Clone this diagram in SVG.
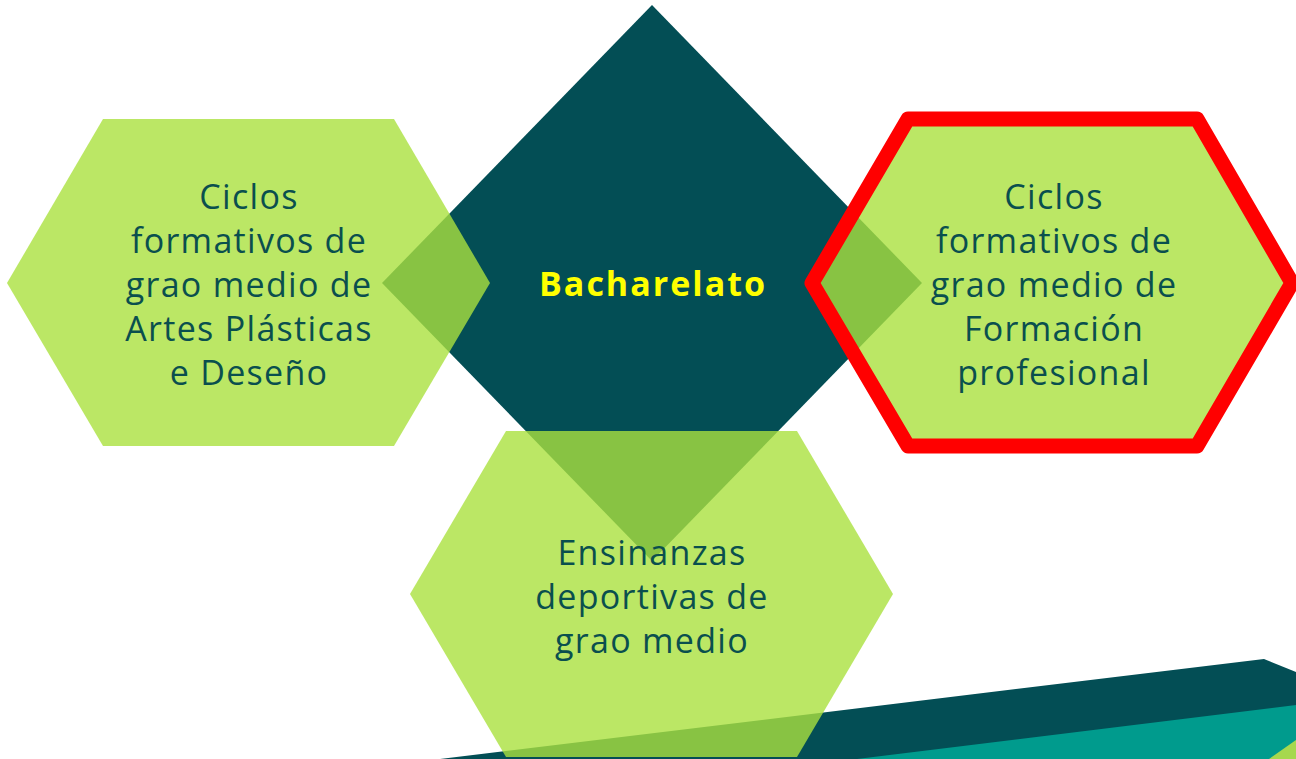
<svg xmlns="http://www.w3.org/2000/svg" width="1296" height="759" viewBox="0 0 1296 759">
<style>
.hex{fill:rgb(170,225,62);fill-opacity:0.8}
.lbl{font-family:"Open Sans","Noto Sans",sans-serif;font-size:34px;fill:#0A4F4E;text-anchor:middle;letter-spacing:1.3px}
.main{font-family:"Open Sans","Noto Sans",sans-serif;font-size:34px;font-weight:bold;fill:#FFFF00;text-anchor:middle;letter-spacing:2px}
</style>
<rect width="1296" height="759" fill="#FFFFFF"/>
<g id="decoration">
<polygon points="440,759 1264,659 1296,672 1296,759" fill="#034E55"/>
<polygon points="857,759 1296,705 1296,759" fill="#009B8D"/>
<polygon points="1269,759 1296,740 1296,759" fill="#A6D84E"/>
</g>
<g id="bacharelato">
<polygon points="652,5 922,283 652,561 382,283" fill="#034E55"/>
<text class="main" x="653" y="296">Bacharelato</text>
</g>
<g id="artes">
<polygon class="hex" points="103,119 394,119 490,283 394,446 103,446 7,283"/>
<text class="lbl" x="249" y="209">Ciclos</text>
<text class="lbl" x="249" y="253">formativos de</text>
<text class="lbl" x="249" y="297">grao medio de</text>
<text class="lbl" x="249" y="341">Artes Plásticas</text>
<text class="lbl" x="249" y="385">e Deseño</text>
</g>
<g id="fp">
<polygon class="hex" points="908,119 1197,119 1292,283 1197,446 908,446 812,283"/>
<polygon points="908,119 1197,119 1292,283 1197,446 908,446 812,283" fill="none" stroke="#FF0000" stroke-width="15" stroke-linejoin="round"/>
<text class="lbl" x="1054" y="209">Ciclos</text>
<text class="lbl" x="1054" y="253">formativos de</text>
<text class="lbl" x="1054" y="297">grao medio de</text>
<text class="lbl" x="1054" y="341">Formación</text>
<text class="lbl" x="1054" y="385">profesional</text>
</g>
<g id="deportivas">
<polygon class="hex" points="506,431 797,431 893,594 797,757 506,757 410,594"/>
<text class="lbl" x="652" y="565">Ensinanzas</text>
<text class="lbl" x="652" y="609">deportivas de</text>
<text class="lbl" x="652" y="653">grao medio</text>
</g>
<g id="connectors"/>
</svg>
